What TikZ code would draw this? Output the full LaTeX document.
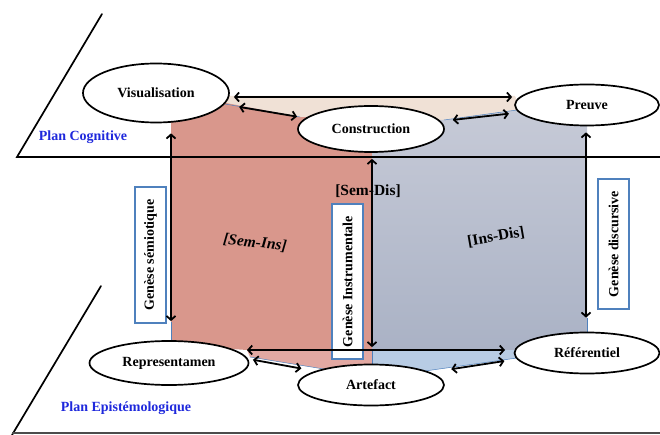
\documentclass[tikz,border=0pt]{standalone}
\usepackage{fontspec}
\setmainfont{Liberation Serif}
\usetikzlibrary{shapes.geometric,arrows.meta,calc}
\definecolor{redf}{RGB}{217,151,140}
\definecolor{lred}{RGB}{226,168,162}
\definecolor{beigef}{RGB}{240,225,214}
\definecolor{gtop}{RGB}{198,202,215}
\definecolor{gbot}{RGB}{170,178,197}
\definecolor{lblue}{RGB}{184,204,228}
\definecolor{boxblue}{RGB}{79,129,189}
\definecolor{planblue}{RGB}{30,40,220}
\begin{document}
\begin{tikzpicture}[x=1pt,y=-1pt,
  ell/.style={ellipse, draw, line width=1.7pt, fill=white, inner sep=0pt, font=\bfseries\fontsize{14}{16}\selectfont},
  dar/.style={{Straight Barb[length=4pt,width=9pt]}-{Straight Barb[length=4pt,width=9pt]}, line width=1.8pt},
  gbox/.style={draw=boxblue, line width=1.4pt, fill=white, rotate=90, inner sep=0pt, font=\bfseries\fontsize{14}{16}\selectfont},
  plane/.style={line width=1.7pt, line cap=round},
  thinb/.style={draw=boxblue, line width=0.5pt},
  planlbl/.style={text=planblue, font=\bfseries\fontsize{14}{16}\selectfont},
  zone/.style={font=\bfseries\fontsize{15.5}{18}\selectfont}]
\useasboundingbox (0,0) rectangle (660,435);
% coloured regions
\fill[beigef] (229,96) -- (515,96) -- (522,112) -- (444,120) -- (300,117) -- (225,104) -- cycle;
\fill[redf] (171,122) -- (226,103) -- (300,117) -- (372,118) -- (372,350) -- (247,350) -- (171,345) -- cycle;
\shade[top color=gtop, bottom color=gbot] (372,118) -- (444,120) -- (517,110) -- (587,112) -- (587,350) -- (372,350) -- cycle;
\fill[lred] (247,350) -- (372,350) -- (372,372) -- (330,370) -- (250,357) -- cycle;
\fill[lblue] (372,350) -- (517,350) -- (517,358) -- (425,371) -- (372,372) -- cycle;
\draw[thinb] (225,104) -- (300,117);
\draw[thinb] (444,120) -- (517,110);
\draw[thinb] (250,357) -- (330,370);
\draw[thinb] (425,371) -- (517,358);
\draw[thinb] (587,318) -- (587,334);
\draw[thinb] (171,322) -- (171,343);
\draw[thinb] (372,350) -- (372,366);
% planes
\draw[plane] (102,14) -- (17,157) -- (660,157);
\draw[plane] (101,286) -- (12,435);
\draw[line width=1.6pt, black!70] (12,433) -- (660,433);
% plane labels
\node[planlbl] (pcog) at (83,137) {Plan Cognitive};
\node[planlbl] (pepi) at (126,408) {Plan Epistémologique};
% zone labels
\node[zone] (semdis) at (368,191) {[Sem-Dis]};
\node[zone, font=\bfseries\itshape\fontsize{15.5}{18}\selectfont, rotate=-6] (semins) at (255,243) {[Sem-Ins]};
\node[zone, rotate=10] (insdis) at (496,237) {[Ins-Dis]};
% ellipses
\node[ell, minimum width=146pt, minimum height=59pt] (vis) at (156,93) {Visualisation};
\node[ell, minimum width=146pt, minimum height=46pt] (cons) at (371,129) {Construction};
\node[ell, minimum width=144pt, minimum height=41pt] (prv) at (587,105) {Preuve};
\node[ell, minimum width=159pt, minimum height=44pt] (rep) at (169,363) {Representamen};
\node[ell, minimum width=146pt, minimum height=41pt] (art) at (371,385) {Artefact};
\node[ell, minimum width=145pt, minimum height=41pt] (ref) at (587,353) {Référentiel};
% genesis boxes
\node[gbox, minimum width=136pt, minimum height=31pt] (gsem) at (150.5,255) {Genèse sémiotique};
\node[gbox, minimum width=155pt, minimum height=31pt] (gins) at (347.5,281.5) {Genèse Instrumentale};
\node[gbox, minimum width=130pt, minimum height=31pt] (gdis) at (613.5,244) {Genèse discursive};
% connectors
\draw[dar] ([shift={(4,4)}]vis.east) -- ([shift={(-2,-8)}]prv.west);
\draw[dar, shorten <=15pt, shorten >=8.5pt] (vis) -- (cons);
\draw[dar, shorten <=12pt, shorten >=10pt] (cons) -- (prv);
\draw[dar, shorten <=5pt, shorten >=14pt] (rep.3) -- (art.166);
\draw[dar, shorten <=21pt, shorten >=12.5pt] (art.12) -- (ref.185);
\draw[dar] ([shift={(78,-13)}]rep.center) -- ([shift={(-82,-3)}]ref.center);
\draw[dar] ([shift={(1,6)}]cons.south) -- ([shift={(1,-16.5)}]art.north);
\draw[dar] ([shift={(15,10)}]vis.south) -- ([shift={(2,-19)}]rep.north);
\draw[dar] ([shift={(-1,6)}]prv.south) -- ([shift={(-1,-14)}]ref.north);
\end{tikzpicture}
\end{document}
